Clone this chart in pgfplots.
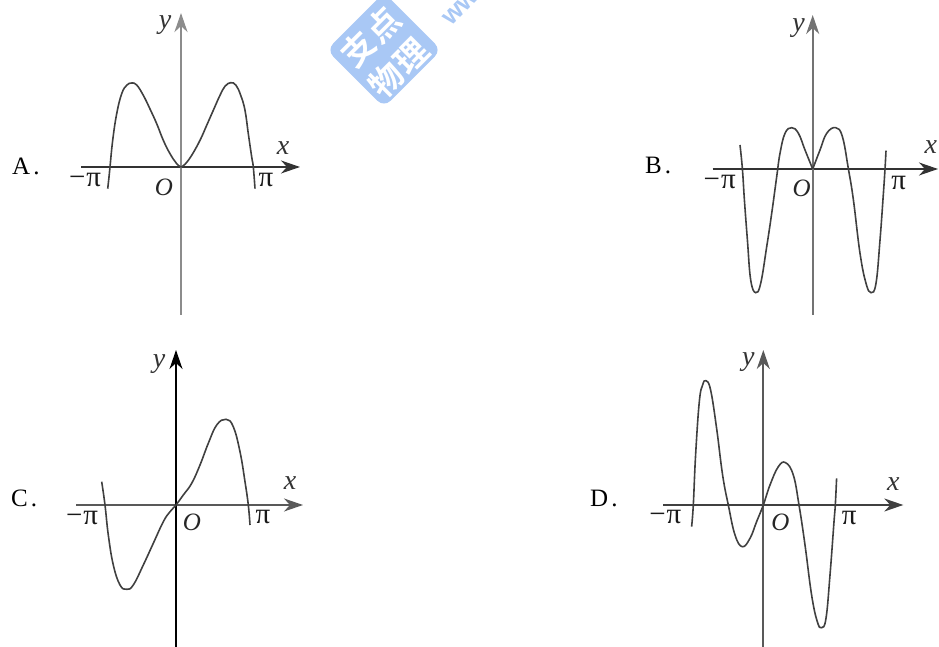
\documentclass[border=0pt]{standalone}
\usepackage{fontspec}
\setmainfont{Liberation Serif}
\newfontfamily\cjk{Noto Sans CJK SC}[BoldFont={* Bold}]
\newfontfamily\wmsans{Liberation Sans}
\usepackage{pgfplots}
\pgfplotsset{compat=1.18}
\usetikzlibrary{arrows.meta}
\definecolor{wm}{HTML}{A9C8F5}
\definecolor{curve}{HTML}{404040}
\pgfplotsset{
  panel/.style={
    x=1pt,y=1pt,anchor=south west,clip=false,
    axis lines=middle,xtick=\empty,ytick=\empty,
    axis line style={-{Stealth[length=19pt,width=13pt,inset=6pt]}},
  },
}
\newcommand{\mpi}{−\kern1pt π}
\tikzset{
  crv/.style={curve,line width=1.6pt,smooth,tension=0.7},
  lab/.style={font=\fontsize{25}{25}\selectfont,text=black!85,inner sep=0pt},
  pl/.style={font=\fontsize{29}{29}\selectfont,text=black!90,inner sep=0pt},
  vl/.style={font=\fontsize{28}{28}\selectfont\itshape,text=black!80,inner sep=0pt},
}
\begin{document}
\begin{tikzpicture}[x=1pt,y=1pt]
\path[use as bounding box] (0,0) rectangle (939,647);
\begin{scope}
\clip (0,0) rectangle (939,647);
\node[rotate=45,fill=wm,rounded corners=9pt,minimum size=81pt,inner sep=0pt] at (384,597) {};
\node[rotate=45,text=white,inner sep=0pt,font=\cjk\bfseries\fontsize{33}{33}\selectfont] at (371,610) {支\hspace{2pt}点};
\node[rotate=45,text=white,inner sep=0pt,font=\cjk\bfseries\fontsize{33}{33}\selectfont] at (399,579) {物\hspace{2pt}理};
\node[rotate=45,text=wm,inner sep=0pt,font=\wmsans\bfseries\fontsize{26}{26}\selectfont,anchor=west] at (446,625) {ww};
\end{scope}

% A
\begin{axis}[panel,at={(81,332)},xmin=-100,xmax=119,ymin=-148,ymax=154,
  x axis line style={black!80,line width=1.2pt},
  y axis line style={black!45,line width=2.8pt}]
\addplot[crv,no markers] coordinates {(-73.3,-21.7)(-72,-10)(-71,0)(-68.3,26.7)(-64.3,53.3)(-59.3,73.3)(-54.3,81.7)(-49.3,84)(-44.3,82)(-37.7,71.7)(-31,58)(-24.3,43.3)(-17.7,26.7)(-11,13.3)(-4.3,3.3)(0,0)};
\addplot[crv,no markers] coordinates {(0,0)(4,2.7)(10.7,11.7)(19,26.7)(25.7,41.7)(32.3,56.7)(39,71.7)(44,80.7)(49.7,84.3)(55,81.7)(59.7,71.7)(64,56.7)(67.3,33.3)(70.7,10)(72.3,0)(74,-21.7)};
\node[vl] at (axis cs:-16,142) {y};
\node[vl] at (axis cs:102,19) {x};
\node[pl] at (axis cs:-96,-13) {\mpi};
\node[pl] at (axis cs:85,-13) {π};
\node[lab] at (axis cs:-17,-20) {\textit{O}};
\end{axis}

% B
\begin{axis}[panel,at={(712.7,332)},xmin=-100,xmax=125.3,ymin=-146,ymax=154,
  x axis line style={black!80,line width=1.2pt},
  y axis line style={black!55,line width=2pt}]
\addplot[crv,no markers] coordinates {(-72.7,24)(-70.3,0)(-68.3,-31)(-65.3,-71)(-62,-111)(-57,-123.7)(-52,-114.3)(-46,-77.7)(-41,-44.3)(-36,-7.7)(-32.7,15.7)(-27.7,35.7)(-21,41.3)(-14.3,35.7)(-7.7,19)(0,0)};
\addplot[crv,no markers] coordinates {(0,0)(7.3,19)(14,35.7)(23,41.3)(29.7,32.3)(35.7,0)(40.7,-31)(47.3,-84.3)(53.3,-114.3)(58.3,-123.7)(63.3,-114.3)(67.3,-71)(70.7,-24.3)(72.3,0)(73.3,18.3)};
\node[vl] at (axis cs:-14,141) {y};
\node[vl] at (axis cs:118,22) {x};
\node[pl] at (axis cs:-93,-13) {\mpi};
\node[pl] at (axis cs:86,-14) {π};
\node[lab] at (axis cs:-11,-19) {\textit{O}};
\end{axis}

% C
\begin{axis}[panel,at={(76,0)},xmin=-100,xmax=127,ymin=-142,ymax=155,
  x axis line style={black!65,line width=1.6pt},
  y axis line style={black,line width=1.3pt}]
\addplot[crv,no markers] coordinates {(-74.3,23.3)(-71,0)(-67.7,-30)(-62.7,-60)(-56,-80)(-49.3,-84.3)(-42.7,-80)(-32.7,-60)(-22.7,-38.3)(-12.7,-16.7)(-6,-6.7)(0,0)(7.3,10)(15.7,21.7)(24,40)(32.3,61.7)(40.7,80)(50,85.7)(57.3,78.3)(64,53.3)(69,23.3)(72.3,0)(74,-20)};
\node[vl] at (axis cs:-17,141) {y};
\node[vl] at (axis cs:114,22) {x};
\node[pl] at (axis cs:-94,-13) {\mpi};
\node[pl] at (axis cs:87,-12) {π};
\node[lab] at (axis cs:16,-17) {\textit{O}};
\end{axis}

% D
\begin{axis}[panel,at={(663.3,0)},xmin=-100,xmax=140,ymin=-142,ymax=155,
  x axis line style={black!75,line width=1.3pt},
  y axis line style={black!65,line width=1.8pt}]
\addplot[crv,no markers] coordinates {(-71.7,-21.7)(-70,0)(-67.7,50)(-64,103.3)(-60.7,120)(-57.3,124.3)(-52.7,115)(-46.7,76.7)(-40.7,30)(-35,0)(-28.3,-30)(-21,-41.7)(-13.3,-33.3)(-6.7,-16.7)(0,0)(6.7,20)(15,38.3)(22.3,42.3)(30,30)(35.7,0)(41.7,-40)(48.3,-90)(54,-116.7)(58.3,-122.7)(62.7,-113.3)(66.7,-70)(70.7,-16.7)(72,0)(73.3,26.7)};
\node[vl] at (axis cs:-15,143) {y};
\node[vl] at (axis cs:130,21) {x};
\node[pl] at (axis cs:-98,-12) {\mpi};
\node[pl] at (axis cs:86,-13) {π};
\node[lab] at (axis cs:17,-17) {\textit{O}};
\end{axis}

\node[lab,text=black,anchor=west] at (12,481) {A\kern3pt.};
\node[lab,text=black,anchor=west] at (645,481) {B\kern3pt.};
\node[lab,text=black,anchor=west] at (11,149) {C\kern3pt.};
\node[lab,text=black,anchor=west] at (590,149) {D\kern3pt.};
\end{tikzpicture}
\end{document}
